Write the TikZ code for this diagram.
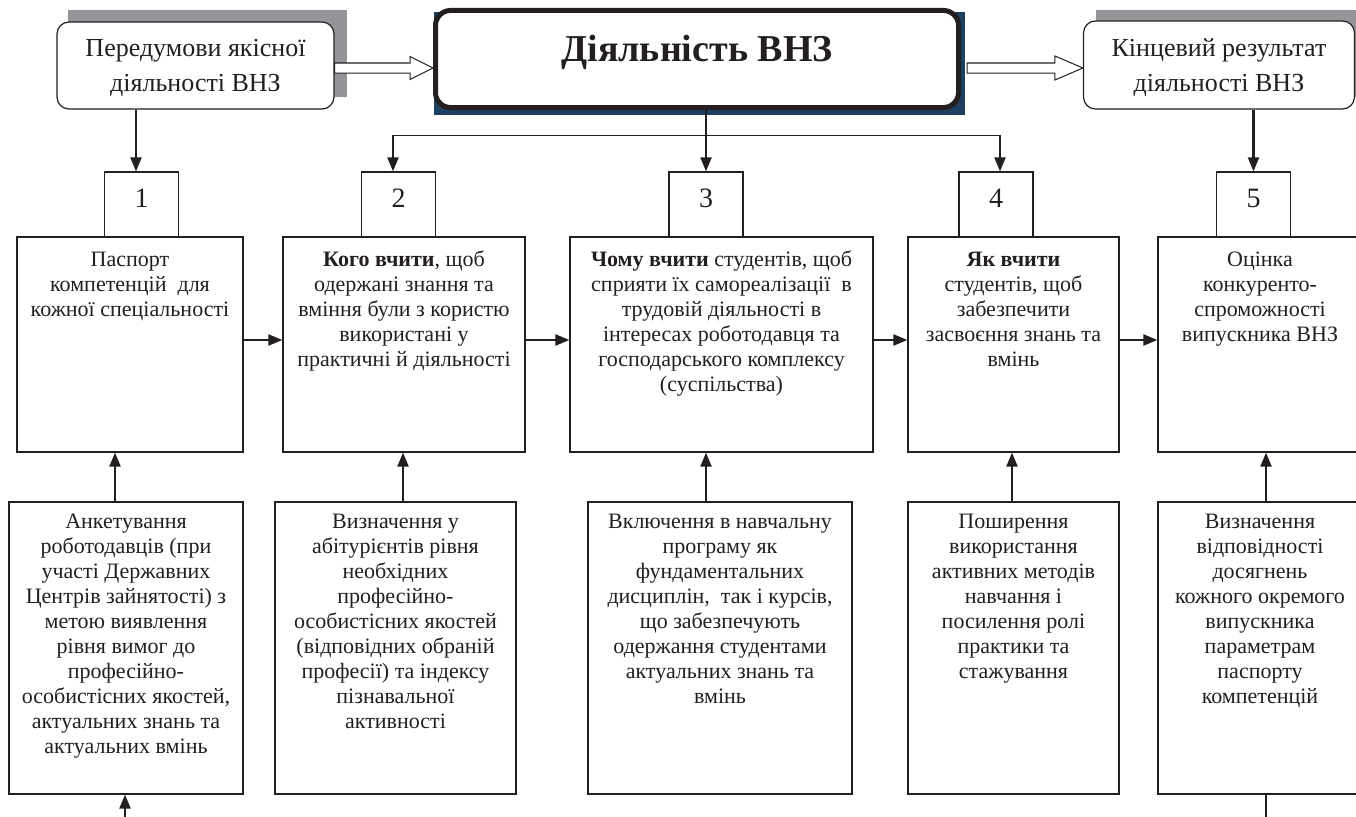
\documentclass[tikz,border=0pt]{standalone}
\usepackage{fontspec}
\setmainfont{Liberation Serif}
\usetikzlibrary{arrows.meta,calc}
\definecolor{ink}{HTML}{231F20}
\definecolor{shadowgray}{HTML}{939598}
\definecolor{navyshadow}{HTML}{1D4060}
\begin{document}
\begin{tikzpicture}[x=1pt,y=-1pt,
 box/.style={draw=ink, line width=1.2pt, fill=white, inner sep=0pt},
 rbox/.style={box, rounded corners=12pt},
 txt/.style={inner sep=0pt, align=center, text=ink, font=\fontsize{22}{25}\selectfont, anchor=north},
 toptxt/.style={txt, font=\fontsize{26}{35}\selectfont},
 numtxt/.style={inner sep=0pt, text=ink, font=\fontsize{28}{32}\selectfont, anchor=base},
 arr/.style={draw=ink, line width=2.2pt, -{Triangle[length=14pt,width=11pt]}},
 thinline/.style={draw=ink, line width=1.5pt},
 hollow/.style={draw=ink, line width=1pt, fill=white, line join=miter}]
\useasboundingbox (0,0) rectangle (1356,816);
\clip (0,0) rectangle (1356,816);
\fill[white] (0,0) rectangle (1356,816);

% top row
\fill[shadowgray] (68,10) rectangle (347,97);
\node[rbox, minimum width=277pt, minimum height=87pt] (tl) at (195.5,65.5) {};
\node[toptxt] (tlt) at ([yshift=-10.5pt]tl.north) {\strut Передумови якісної\\діяльності ВНЗ};

\fill[navyshadow] (434,12) rectangle (965,115);
\node[box, line width=5pt, rounded corners=15pt, minimum width=523pt, minimum height=97pt] (mb) at (697,59) {};
\node[anchor=base, inner sep=0pt, text=ink, font=\fontsize{38}{46}\selectfont\bfseries] (mbt) at ([yshift=-3pt]mb.center) {Діяльність ВНЗ};

\fill[shadowgray] (1096,10) rectangle (1370,97);
\node[rbox, minimum width=271pt, minimum height=88pt] (tr) at (1219,65) {};
\node[toptxt] (trt) at ([yshift=-11.5pt]tr.north) {\strut Кінцевий результат\\діяльності ВНЗ};

% hollow arrows
\coordinate (a1) at ($(tl.east)+(0,2.5)$);
\coordinate (a2) at (mb.west |- a1);
\draw[hollow] ($(a1)+(0,-5)$) -- ($(a2)+(-23,-5)$) -- ($(a2)+(-23,-11.5)$) -- (a2)
  -- ($(a2)+(-23,11.5)$) -- ($(a2)+(-23,5)$) -- ($(a1)+(0,5)$) -- cycle;
\coordinate (b1) at ($(mb.east)+(6,9)$);
\coordinate (b2) at (tr.west |- b1);
\draw[hollow] ($(b1)+(0,-5)$) -- ($(b2)+(-28,-5)$) -- ($(b2)+(-28,-12)$) -- (b2)
  -- ($(b2)+(-28,12)$) -- ($(b2)+(-28,5)$) -- ($(b1)+(0,5)$) -- cycle;

% number boxes
\node[box, minimum width=74pt, minimum height=65pt] (n1) at (141.5,204.5) {};
\node[box, minimum width=74pt, minimum height=65pt] (n2) at (398.5,204.5) {};
\node[box, minimum width=74pt, minimum height=65pt] (n3) at (706,204.5) {};
\node[box, minimum width=74pt, minimum height=65pt] (n4) at (996,204.5) {};
\node[box, minimum width=74pt, minimum height=65pt] (n5) at (1253.5,204.5) {};
\node[numtxt] (d1) at ([yshift=-2.5pt]n1.center) {1};
\node[numtxt] (d2) at ([yshift=-2.5pt]n2.center) {2};
\node[numtxt] (d3) at ([yshift=-2.5pt]n3.center) {3};
\node[numtxt] (d4) at ([yshift=-2.5pt]n4.center) {4};
\node[numtxt] (d5) at ([yshift=-2.5pt]n5.center) {5};

% main row
\node[box, minimum width=226pt, minimum height=215pt] (A) at (130,344.5) {};
\node[box, minimum width=242pt, minimum height=215pt] (B) at (404,344.5) {};
\node[box, minimum width=303pt, minimum height=215pt] (C) at (721.5,344.5) {};
\node[box, minimum width=211pt, minimum height=215pt] (D) at (1013.5,344.5) {};
\node[box, minimum width=204pt, minimum height=215pt] (E) at (1260,344.5) {};
\node[txt] (At) at ([yshift=-12.5pt]A.north) {\strut Паспорт\\компетенцій\ \ для\\кожної спеціальності};
\node[txt] (Bt) at ([yshift=-12.5pt]B.north) {\strut\textbf{Кого вчити}, щоб\\одержані знання та\\вміння були з користю\\використані у\\практичні й діяльності};
\node[txt] (Ct) at ([yshift=-12.5pt]C.north) {\strut\textbf{Чому вчити} студентів, щоб\\сприяти їх самореалізації\ \ в\\трудовій діяльності в\\інтересах роботодавця та\\господарського комплексу\\(суспільства)};
\node[txt] (Dt) at ([yshift=-12.5pt]D.north) {\strut\textbf{Як вчити}\\студентів, щоб\\забезпечити\\засвоєння знань та\\вмінь};
\node[txt] (Et) at ([yshift=-12.5pt]E.north) {\strut Оцінка\\конкуренто-\\спроможності\\випускника ВНЗ};

% bottom row
\node[box, minimum width=234pt, minimum height=292pt] (Ap) at (126,648) {};
\node[box, minimum width=241pt, minimum height=292pt] (Bp) at (395.5,648) {};
\node[box, minimum width=264pt, minimum height=292pt] (Cp) at (720,648) {};
\node[box, minimum width=211pt, minimum height=292pt] (Dp) at (1013.5,648) {};
\node[box, minimum width=204pt, minimum height=292pt] (Ep) at (1260,648) {};
\node[txt] (Apt) at ([yshift=-9.5pt]Ap.north) {\strut Анкетування\\роботодавців (при\\участі Державних\\Центрів зайнятості) з\\метою виявлення\\рівня вимог до\\професійно-\\особистісних якостей,\\актуальних знань та\\актуальних вмінь};
\node[txt] (Bpt) at ([yshift=-9.5pt]Bp.north) {\strut Визначення у\\абітурієнтів рівня\\необхідних\\професійно-\\особистісних якостей\\(відповідних обраній\\професії) та індексу\\пізнавальної\\активності};
\node[txt] (Cpt) at ([yshift=-9.5pt]Cp.north) {\strut Включення в навчальну\\програму як\\фундаментальних\\дисциплін,\ \ так і курсів,\\що забезпечують\\одержання студентами\\актуальних знань та\\вмінь};
\node[txt] (Dpt) at ([yshift=-9.5pt]Dp.north) {\strut Поширення\\використання\\активних методів\\навчання і\\посилення ролі\\практики та\\стажування};
\node[txt] (Ept) at ([yshift=-9.5pt]Ep.north) {\strut Визначення\\відповідності\\досягнень\\кожного окремого\\випускника\\параметрам\\паспорту\\компетенцій};

% vertical connectors top
\coordinate (p1) at ([xshift=-5.5pt]n1.north);
\draw[arr] (p1 |- tl.south) -- (p1);
\coordinate (hub) at ($(n3.north)+(0,-36)$);
\coordinate (p2) at ([xshift=-5.5pt]n2.north);
\coordinate (p4) at ([xshift=4pt]n4.north);
\draw[thinline] (p2 |- hub) -- (p4 |- hub);
\draw[arr] ([yshift=0.75pt]p2 |- hub) -- (p2);
\draw[arr] ([yshift=0.75pt]p4 |- hub) -- (p4);
\draw[arr] (n3.north |- mb.south) -- (n3.north);
\draw[arr] (n5.north |- tr.south) -- (n5.north);

% horizontal connectors
\draw[arr] ([yshift=4.5pt]A.east) -- ([yshift=4.5pt]B.west);
\draw[arr] ([yshift=4.5pt]B.east) -- ([yshift=4.5pt]C.west);
\draw[arr] ([yshift=4.5pt]C.east) -- ([yshift=4.5pt]D.west);
\draw[arr] ([yshift=4.5pt]D.east) -- ([yshift=4.5pt]E.west);

% bottom-to-main connectors
\draw[arr] ([xshift=-11pt]Ap.north) -- ([xshift=-11pt]Ap.north |- A.south);
\draw[arr] ([xshift=7.5pt]Bp.north) -- ([xshift=7.5pt]Bp.north |- B.south);
\draw[arr] ([xshift=-14pt]Cp.north) -- ([xshift=-14pt]Cp.north |- C.south);
\draw[arr] ([xshift=-1.5pt]Dp.north) -- ([xshift=-1.5pt]Dp.north |- D.south);
\draw[arr] ([xshift=6pt]Ep.north) -- ([xshift=6pt]Ep.north |- E.south);

% free ends at the bottom
\coordinate (inA) at (125,830);
\draw[arr] (inA) -- (inA |- Ap.south);
\coordinate (outE) at (1266,830);
\draw[thinline] (outE |- Ep.south) -- (outE);
\end{tikzpicture}
\end{document}
